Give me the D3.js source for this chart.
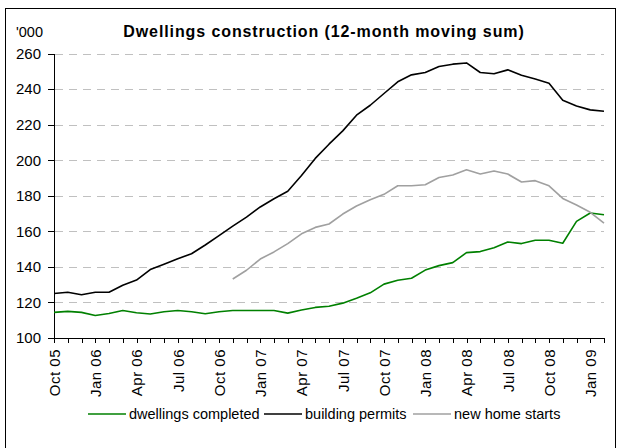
<!DOCTYPE html>
<html>
<head>
<meta charset="utf-8">
<script src="https://cdn.jsdelivr.net/npm/d3@7"></script>
<style>
  body { margin: 0; background: #fff; }
  svg { font-family: 'Liberation Sans', Arial, sans-serif; }
  .axis path, .axis line { stroke: #000; shape-rendering: crispEdges; }
  .axis text { font-size: 15px; fill: #000; }
  .grid line { stroke: #c0c0c0; stroke-dasharray: 8,6; shape-rendering: crispEdges; }
  .legend text { font-size: 14.5px; }
</style>
</head>
<body>
<svg id="chart"></svg>
<script>
// months Oct 05 .. Feb 09
const months = ['Oct 05','Nov 05','Dec 05','Jan 06','Feb 06','Mar 06','Apr 06','May 06','Jun 06','Jul 06','Aug 06','Sep 06',
  'Oct 06','Nov 06','Dec 06','Jan 07','Feb 07','Mar 07','Apr 07','May 07','Jun 07','Jul 07','Aug 07','Sep 07',
  'Oct 07','Nov 07','Dec 07','Jan 08','Feb 08','Mar 08','Apr 08','May 08','Jun 08','Jul 08','Aug 08','Sep 08',
  'Oct 08','Nov 08','Dec 08','Jan 09','Feb 09'];

const dwellingsCompleted = [114.4, 115.0, 114.4, 112.7, 113.8, 115.5, 114.2, 113.5, 114.8, 115.5, 114.8, 113.6,
  114.8, 115.5, 115.5, 115.5, 115.5, 114.0, 115.7, 117.2, 117.9, 119.6, 122.4, 125.4,
  130.3, 132.5, 133.6, 138.2, 140.7, 142.4, 148.0, 148.6, 150.8, 154.0, 153.1, 155.0,
  155.0, 153.3, 165.6, 170.3, 169.3];

const buildingPermits = [125.0, 125.7, 124.3, 125.7, 125.7, 129.7, 132.6, 138.5, 141.5, 144.6, 147.4, 152.3,
  157.6, 162.9, 168.0, 173.7, 178.3, 182.5, 191.4, 201.0, 209.0, 216.5, 225.3, 230.9,
  237.5, 244.1, 248.0, 249.3, 252.7, 254.0, 254.7, 249.3, 248.6, 250.8, 247.8, 245.6,
  243.3, 233.7, 230.5, 228.3, 227.5];

const newHomeStarts = [null, null, null, null, null, null, null, null, null, null, null, null,
  null, 133.2, 138.1, 144.4, 148.4, 153.1, 158.6, 162.2, 164.1, 169.7, 174.2, 177.8,
  180.8, 185.6, 185.6, 186.2, 190.3, 191.7, 194.6, 192.2, 193.9, 192.2, 187.7, 188.5,
  185.6, 178.5, 174.8, 170.7, 164.6];

const yTicks = [100, 120, 140, 160, 180, 200, 220, 240, 260];

const seriesNames = ['dwellings completed', 'building permits', 'new home starts'];
const seriesColors = ['#008000', '#000000', '#a0a0a0'];

const width = 621, height = 448;
const margin = {top: 53.5, right: 17, bottom: 110, left: 54};

const svg = d3.select('#chart')
    .attr('width', width)
    .attr('height', height);

svg.append('rect')
    .attr('width', width).attr('height', height)
    .attr('fill', '#fff');

// outer frame
svg.append('rect')
    .attr('x', 5.5).attr('y', 8.5)
    .attr('width', 610).attr('height', 460)
    .attr('fill', 'none')
    .attr('stroke', '#000');

const xScale = d3.scalePoint()
    .domain(months)
    .range([margin.left, width - margin.right]);

const yScale = d3.scaleLinear()
    .domain([100, 260])
    .range([height - margin.bottom, margin.top]);

// gridlines
svg.append('g')
    .attr('class', 'grid')
    .selectAll('line')
    .data(yTicks.filter(d => d > 100))
  .join('line')
    .attr('x1', margin.left + 1)
    .attr('x2', width - margin.right)
    .attr('y1', d => Math.round(yScale(d)) + 0.5)
    .attr('y2', d => Math.round(yScale(d)) + 0.5);

// axes
const xAxisG = svg.append('g')
    .attr('class', 'axis')
    .attr('transform', `translate(0, ${height - margin.bottom})`)
    .call(d3.axisBottom(xScale)
      .tickSize(5)
      .tickSizeOuter(0)
      .tickFormat((d, i) => i % 3 === 0 ? d : ''));

xAxisG.selectAll('text')
    .attr('transform', 'rotate(-90)')
    .attr('x', -11)
    .attr('y', 0)
    .attr('dy', '0.36em')
    .style('text-anchor', 'end')
    .style('letter-spacing', '0.5px');

svg.append('g')
    .attr('class', 'axis')
    .attr('transform', `translate(${margin.left}, 0)`)
    .call(d3.axisLeft(yScale)
      .tickValues(yTicks)
      .tickSize(6)
      .tickSizeOuter(0)
      .tickPadding(7));

// lines
const allSeries = [dwellingsCompleted, buildingPermits, newHomeStarts];

const line = d3.line()
    .defined(d => d != null)
    .x((d, i) => xScale(months[i]))
    .y(d => yScale(d));

svg.append('g')
    .selectAll('path')
    .data(allSeries)
  .join('path')
    .attr('fill', 'none')
    .attr('stroke', (d, i) => seriesColors[i])
    .attr('stroke-width', 1.6)
    .attr('stroke-linejoin', 'round')
    .attr('d', line);

// title and unit
svg.append('text')
    .attr('x', 324)
    .attr('y', 37)
    .attr('text-anchor', 'middle')
    .style('font-size', '16px')
    .style('font-weight', 'bold')
    .style('letter-spacing', '0.9px')
    .text('Dwellings construction (12-month moving sum)');

svg.append('text')
    .attr('x', 16)
    .attr('y', 37)
    .style('font-size', '14.5px')
    .text("'000");

// legend
const legendX = [88, 264, 413];
const legendY = 414;

const legend = svg.append('g')
    .attr('class', 'legend')
    .selectAll('g')
    .data(seriesNames)
  .join('g')
    .attr('transform', (d, i) => `translate(${legendX[i]}, ${legendY})`);

legend.append('line')
    .attr('x1', 0).attr('x2', 38)
    .attr('stroke', (d, i) => seriesColors[i])
    .attr('stroke-width', 1.6);

legend.append('text')
    .attr('x', 41)
    .attr('dy', '0.36em')
    .text(d => d);
</script>
</body>
</html>
